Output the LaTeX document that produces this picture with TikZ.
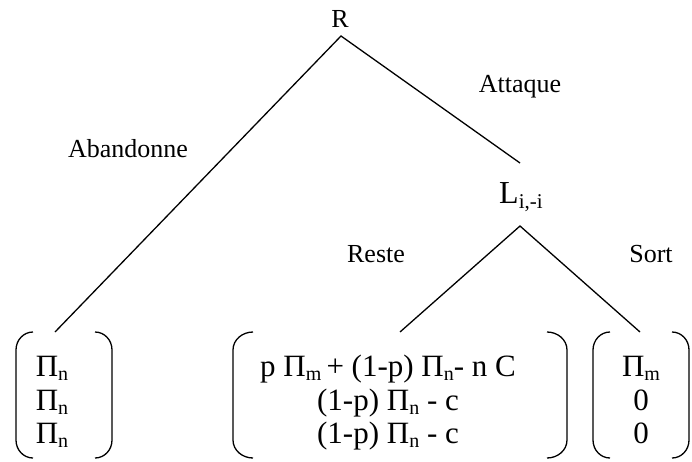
\documentclass[tikz,border=0pt]{standalone}
\usepackage{fontspec}
\setmainfont{Liberation Serif}
\newcommand{\sbs}[2][20]{\raisebox{-0.16em}{\fontsize{#1}{#1}\selectfont #2}}
\begin{document}
\begin{tikzpicture}[x=1pt,y=-1pt,
  lbl/.style={font=\fontsize{26}{30}\selectfont, inner sep=0pt, anchor=base},
  cell/.style={font=\fontsize{31}{34}\selectfont, inner sep=0pt, anchor=base},
  edge/.style={line width=1.3pt},
  brk/.style={line width=1.3pt}]
\useasboundingbox (0,0) rectangle (692,461);
% root and labels
\node[lbl] (R) at (340,27) {R};
\node[lbl] (abd) at (128,157) {Abandonne};
\node[lbl] (att) at (520,92) {Attaque};
\node[lbl,font=\fontsize{32}{34}\selectfont,anchor=base west] (L) at (499,203) {L\sbs[21]{i,-i}};
\node[lbl] (reste) at (376,262) {Reste};
\node[lbl] (sort) at (651,262) {Sort};
% connector ends
\coordinate (Rtip) at (341,36);
\coordinate (Ltop) at (520,163);
\coordinate (Lbot) at (520,226);
\coordinate (endA) at (55,332);
\coordinate (endB) at (400,332);
\coordinate (endC) at (640,332);
\draw[edge] (endA) -- (Rtip) -- (Ltop);
\draw[edge] (endB) -- (Lbot) -- (endC);
% left column
\node[cell] (a1) at (52,376) {Π\sbs{n}};
\node[cell] (a2) at (52,410) {Π\sbs{n}};
\node[cell] (a3) at (52,443) {Π\sbs{n}};
% middle column
\node[cell] (b1) at (388,376) {p Π\sbs{m}\,+ (1-p) Π\sbs{n}- n C};
\node[cell] (b2) at (388,410) {(1-p) Π\sbs{n} - c};
\node[cell] (b3) at (388,443) {(1-p) Π\sbs{n} - c};
% right column
\node[cell] (c1) at (641,376) {Π\sbs{m}};
\node[cell] (c2) at (641,410) {0};
\node[cell] (c3) at (641,443) {0};
% brackets
\draw[brk] (33,332) to[out=180,in=90] (16,350) -- (16,440) to[out=-90,in=180] (33,458);
\draw[brk] (95,332) to[out=0,in=90] (112,350) -- (112,440) to[out=-90,in=0] (95,458);
\draw[brk] (253,332) to[out=180,in=90] (233,350) -- (233,440) to[out=-90,in=180] (253,458);
\draw[brk] (547,332) to[out=0,in=90] (567,350) -- (567,440) to[out=-90,in=0] (547,458);
\draw[brk] (610,332) to[out=180,in=90] (593,350) -- (593,440) to[out=-90,in=180] (610,458);
\draw[brk] (672,332) to[out=0,in=90] (689,350) -- (689,440) to[out=-90,in=0] (672,458);
\end{tikzpicture}
\end{document}
